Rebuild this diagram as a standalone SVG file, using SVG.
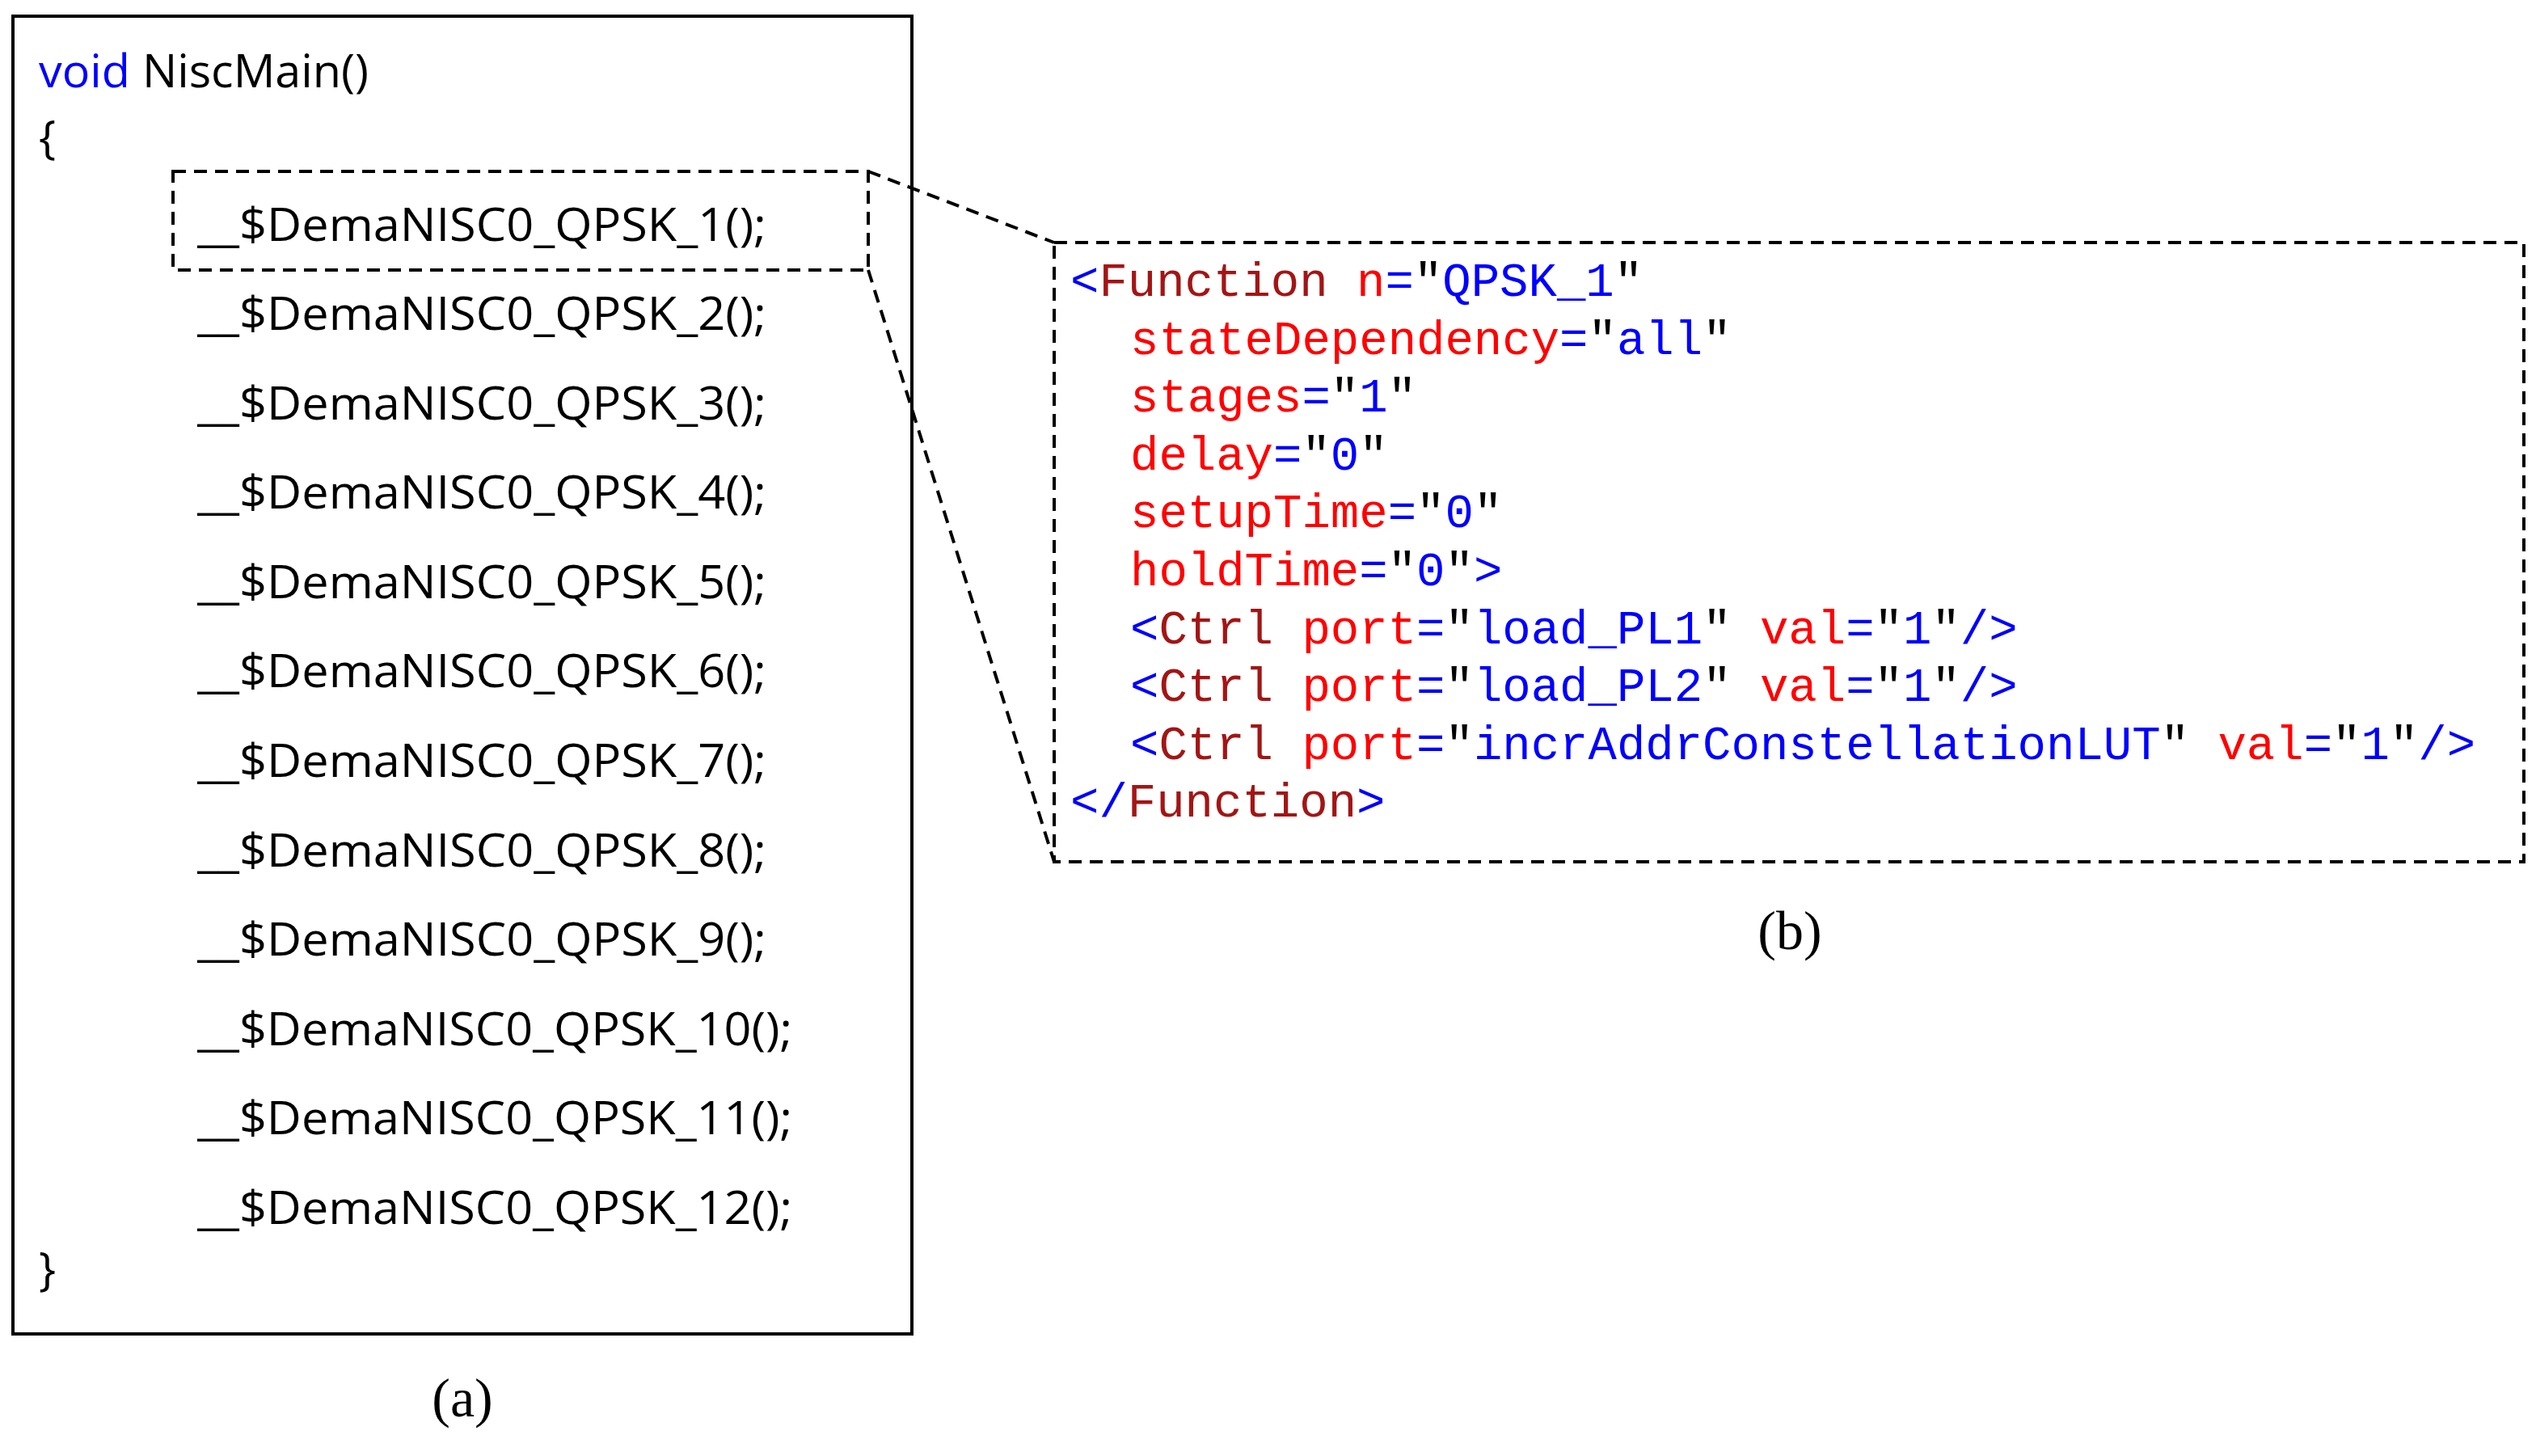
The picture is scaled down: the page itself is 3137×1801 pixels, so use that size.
<svg xmlns="http://www.w3.org/2000/svg" width="3137" height="1801" viewBox="0 0 3137 1801">
<style>
.c{font-family:"Open Sans","Liberation Sans",sans-serif;font-size:56px;fill:#000}
.m{font-family:"Liberation Mono",monospace;font-size:59px;fill:#000}
.cap{font-family:"Liberation Serif",serif;font-size:68px;fill:#000;text-anchor:middle}
.b{fill:#0000FF}.r{fill:#FF0000}.d{fill:#A31515}
.dash{fill:none;stroke:#000;stroke-width:4;stroke-dasharray:16,10}
</style>
<rect width="3137" height="1801" fill="#fff"/>
<g id="nodeA">
<rect x="16" y="20" width="1112" height="1630" fill="none" stroke="#000" stroke-width="4"/>
<text class="c" x="48" y="108" textLength="408" lengthAdjust="spacingAndGlyphs"><tspan class="b">void</tspan> NiscMain()</text>
<text class="c" x="48" y="190">{</text>
<text class="c" x="244" y="298" textLength="704" lengthAdjust="spacingAndGlyphs">__$DemaNISC0_QPSK_1();</text>
<text class="c" x="244" y="408" textLength="704" lengthAdjust="spacingAndGlyphs">__$DemaNISC0_QPSK_2();</text>
<text class="c" x="244" y="519" textLength="704" lengthAdjust="spacingAndGlyphs">__$DemaNISC0_QPSK_3();</text>
<text class="c" x="244" y="629" textLength="704" lengthAdjust="spacingAndGlyphs">__$DemaNISC0_QPSK_4();</text>
<text class="c" x="244" y="740" textLength="704" lengthAdjust="spacingAndGlyphs">__$DemaNISC0_QPSK_5();</text>
<text class="c" x="244" y="850" textLength="704" lengthAdjust="spacingAndGlyphs">__$DemaNISC0_QPSK_6();</text>
<text class="c" x="244" y="961" textLength="704" lengthAdjust="spacingAndGlyphs">__$DemaNISC0_QPSK_7();</text>
<text class="c" x="244" y="1072" textLength="704" lengthAdjust="spacingAndGlyphs">__$DemaNISC0_QPSK_8();</text>
<text class="c" x="244" y="1182" textLength="704" lengthAdjust="spacingAndGlyphs">__$DemaNISC0_QPSK_9();</text>
<text class="c" x="244" y="1293" textLength="736" lengthAdjust="spacingAndGlyphs">__$DemaNISC0_QPSK_10();</text>
<text class="c" x="244" y="1403" textLength="736" lengthAdjust="spacingAndGlyphs">__$DemaNISC0_QPSK_11();</text>
<text class="c" x="244" y="1514" textLength="736" lengthAdjust="spacingAndGlyphs">__$DemaNISC0_QPSK_12();</text>
<text class="c" x="48" y="1590">}</text>
<text class="cap" x="572" y="1752">(a)</text>
</g>
<g id="highlight">
<rect class="dash" x="214" y="212" width="860" height="122"/>
</g>
<g id="connectors">
<line class="dash" x1="1074" y1="212" x2="1304" y2="300"/>
<line class="dash" x1="1074" y1="334" x2="1304" y2="1066"/>
</g>
<g id="nodeB">
<rect class="dash" x="1304" y="300" width="1818" height="766"/>
<text class="m" x="1324" y="366" xml:space="preserve"><tspan class="b">&lt;</tspan><tspan class="d">Function</tspan> <tspan class="r">n</tspan><tspan class="b">=</tspan>"<tspan class="b">QPSK_1</tspan>"</text>
<text class="m" x="1398" y="438"><tspan class="r">stateDependency</tspan><tspan class="b">=</tspan>"<tspan class="b">all</tspan>"</text>
<text class="m" x="1398" y="509"><tspan class="r">stages</tspan><tspan class="b">=</tspan>"<tspan class="b">1</tspan>"</text>
<text class="m" x="1398" y="581"><tspan class="r">delay</tspan><tspan class="b">=</tspan>"<tspan class="b">0</tspan>"</text>
<text class="m" x="1398" y="652"><tspan class="r">setupTime</tspan><tspan class="b">=</tspan>"<tspan class="b">0</tspan>"</text>
<text class="m" x="1398" y="724"><tspan class="r">holdTime</tspan><tspan class="b">=</tspan>"<tspan class="b">0</tspan>"<tspan class="b">&gt;</tspan></text>
<text class="m" x="1398" y="796" xml:space="preserve"><tspan class="b">&lt;</tspan><tspan class="d">Ctrl</tspan> <tspan class="r">port</tspan><tspan class="b">=</tspan>"<tspan class="b">load_PL1</tspan>" <tspan class="r">val</tspan><tspan class="b">=</tspan>"<tspan class="b">1</tspan>"<tspan class="b">/&gt;</tspan></text>
<text class="m" x="1398" y="867" xml:space="preserve"><tspan class="b">&lt;</tspan><tspan class="d">Ctrl</tspan> <tspan class="r">port</tspan><tspan class="b">=</tspan>"<tspan class="b">load_PL2</tspan>" <tspan class="r">val</tspan><tspan class="b">=</tspan>"<tspan class="b">1</tspan>"<tspan class="b">/&gt;</tspan></text>
<text class="m" x="1398" y="939" xml:space="preserve"><tspan class="b">&lt;</tspan><tspan class="d">Ctrl</tspan> <tspan class="r">port</tspan><tspan class="b">=</tspan>"<tspan class="b">incrAddrConstellationLUT</tspan>" <tspan class="r">val</tspan><tspan class="b">=</tspan>"<tspan class="b">1</tspan>"<tspan class="b">/&gt;</tspan></text>
<text class="m" x="1324" y="1010"><tspan class="b">&lt;/</tspan><tspan class="d">Function</tspan><tspan class="b">&gt;</tspan></text>
<text class="cap" x="2214" y="1174">(b)</text>
</g>
</svg>
